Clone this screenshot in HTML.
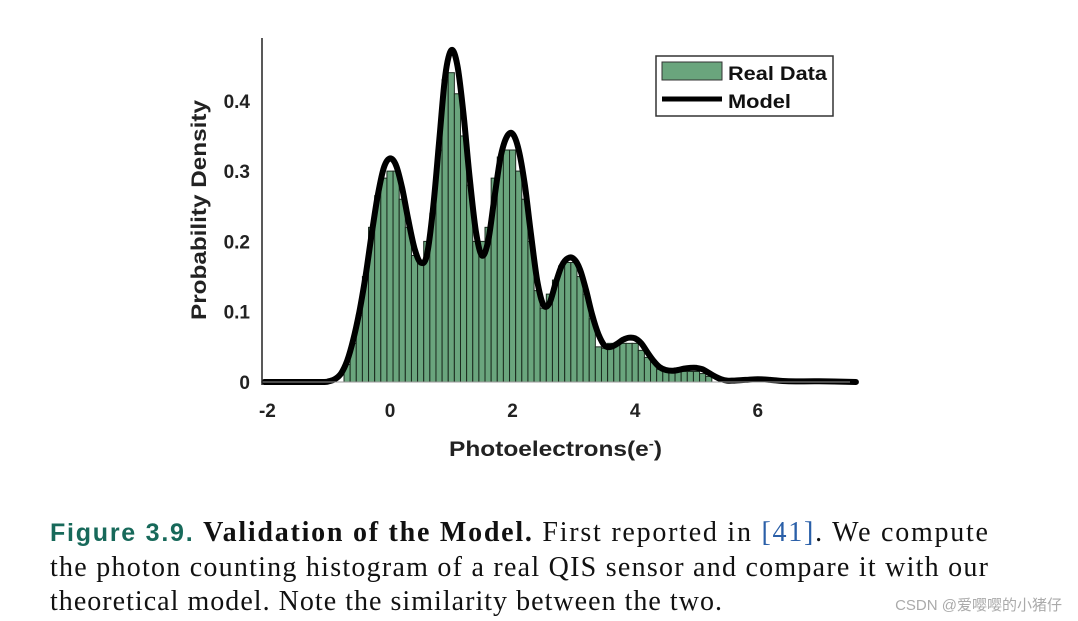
<!DOCTYPE html>
<html><head><meta charset="utf-8"><style>
html,body{margin:0;padding:0;background:#fff;width:1078px;height:621px;overflow:hidden}
svg text{font-family:"Liberation Sans",Arial,sans-serif}
.cap{font-family:"Liberation Serif","Noto Serif CJK SC",serif;font-size:28px;fill:#111}
</style></head><body>
<svg id="chart" width="1078" height="621" xmlns="http://www.w3.org/2000/svg">
<g id="bars"></g>
<path id="model" fill="none" stroke="#000" stroke-width="6" stroke-linejoin="round" stroke-linecap="round"/>
<line x1="262" y1="382" x2="850" y2="382" stroke="#999" stroke-width="1"/>
<line x1="262" y1="38" x2="262" y2="385" stroke="#222" stroke-width="1.5"/>
<g id="yticks"></g>
<g id="xticks"></g>
<text x="0" y="0" transform="translate(206,210) rotate(-90)" text-anchor="middle" font-size="21" font-weight="bold" fill="#222" textLength="220" lengthAdjust="spacingAndGlyphs">Probability Density</text>
<text x="449" y="456" font-size="21" font-weight="bold" fill="#222" textLength="213" lengthAdjust="spacingAndGlyphs">Photoelectrons(e<tspan dy="-8" font-size="13">-</tspan><tspan dy="8">)</tspan></text>
<g>
<rect x="656" y="56" width="177" height="60" fill="#fff" stroke="#333" stroke-width="1.5"/>
<rect x="662" y="62" width="60" height="18" fill="#6aa57d" stroke="#333" stroke-width="1"/>
<text x="728" y="80" font-size="19" font-weight="bold" fill="#111" textLength="99" lengthAdjust="spacingAndGlyphs">Real Data</text>
<line x1="662" y1="99" x2="722" y2="99" stroke="#000" stroke-width="5"/>
<text x="728" y="108" font-size="19" font-weight="bold" fill="#111" textLength="63" lengthAdjust="spacingAndGlyphs">Model</text>
</g>
<g>
<text class="cap" x="50" y="541" textLength="938" lengthAdjust="spacing"><tspan font-family="Liberation Sans, sans-serif" font-weight="bold" fill="#17695a" font-size="25">Figure 3.9.</tspan> <tspan font-weight="bold">Validation of the Model.</tspan> First reported in <tspan fill="#2a5fa8">[41]</tspan>. We compute</text>
<text class="cap" x="50" y="576" textLength="938" lengthAdjust="spacing">the photon counting histogram of a real QIS sensor and compare it with our</text>
<text class="cap" x="50" y="610" textLength="672" lengthAdjust="spacing">theoretical model. Note the similarity between the two.</text>
</g>
<text x="1062" y="610" text-anchor="end" font-size="15" fill="#aaa" style="font-family:'Liberation Sans','Noto Sans CJK SC',sans-serif">CSDN @爱嘤嘤的小猪仔</text>
</svg>
<script>
const barStart = -0.7;
const barWidth = 0.1;
const barValues = [0.025,0.055,0.095,0.15,0.22,0.265,0.29,0.3,0.3,0.26,0.22,0.18,0.17,0.2,0.24,0.33,0.43,0.44,0.41,0.35,0.28,0.2,0.2,0.22,0.29,0.32,0.33,0.33,0.3,0.26,0.2,0.13,0.105,0.125,0.145,0.165,0.17,0.17,0.15,0.125,0.09,0.05,0.048,0.055,0.055,0.055,0.055,0.055,0.045,0.035,0.028,0.018,0.015,0.015,0.015,0.015,0.015,0.015,0.012,0.008];
const modelX = [-2.2,-1.5,-1.1,-1.0,-0.9,-0.8,-0.7,-0.6,-0.5,-0.4,-0.3,-0.2,-0.1,0,0.1,0.2,0.3,0.4,0.5,0.6,0.7,0.8,0.9,1.0,1.1,1.2,1.3,1.4,1.5,1.6,1.7,1.8,1.9,2.0,2.1,2.2,2.3,2.4,2.5,2.6,2.7,2.8,2.9,3.0,3.1,3.2,3.3,3.4,3.5,3.6,3.7,3.8,3.9,4.0,4.1,4.2,4.3,4.4,4.5,4.6,4.7,4.8,4.9,5.0,5.1,5.2,5.3,5.4,5.5,5.6,5.8,6.0,6.2,6.5,7.0,7.6];
const modelY = [0,0,0,0.001,0.004,0.012,0.03,0.06,0.1,0.15,0.21,0.265,0.305,0.318,0.308,0.275,0.23,0.19,0.17,0.18,0.245,0.34,0.435,0.472,0.45,0.38,0.29,0.215,0.18,0.2,0.26,0.318,0.348,0.353,0.33,0.28,0.21,0.145,0.11,0.112,0.14,0.165,0.176,0.175,0.16,0.13,0.095,0.068,0.052,0.05,0.054,0.06,0.063,0.062,0.055,0.042,0.03,0.021,0.017,0.016,0.017,0.019,0.02,0.02,0.018,0.013,0.008,0.004,0.002,0.002,0.003,0.004,0.003,0.001,0.001,0];
const yTicks = [0,0.1,0.2,0.3,0.4];
const yTickLabels = ["0","0.1","0.2","0.3","0.4"];
const xTicks = [-2,0,2,4,6];
const xTickLabels = ["-2","0","2","4","6"];
const NS="http://www.w3.org/2000/svg";
function sx(v){return 390+v*61.3;}
function sy(v){return 382-v*703;}
const bg=document.getElementById('bars');
barValues.forEach((v,i)=>{
  const x0=barStart+i*barWidth-barWidth/2;
  const r=document.createElementNS(NS,'rect');
  r.setAttribute('x',sx(x0));r.setAttribute('width',sx(x0+barWidth)-sx(x0));
  r.setAttribute('y',sy(v));r.setAttribute('height',sy(0)-sy(v));
  r.setAttribute('fill','#6aa57d');r.setAttribute('stroke','#1a2a1e');r.setAttribute('stroke-width','1');
  
  
  bg.appendChild(r);
});
const pts=modelX.map((x,i)=>[sx(Math.max(x,-2.05)),sy(modelY[i])]);
let d='M'+pts[0][0].toFixed(1)+','+pts[0][1].toFixed(1);
for(let i=0;i<pts.length-1;i++){
  const p0=pts[Math.max(i-1,0)],p1=pts[i],p2=pts[i+1],p3=pts[Math.min(i+2,pts.length-1)];
  const c1=[p1[0]+(p2[0]-p0[0])/6,p1[1]+(p2[1]-p0[1])/6];
  const c2=[p2[0]-(p3[0]-p1[0])/6,p2[1]-(p3[1]-p1[1])/6];
  d+='C'+c1[0].toFixed(1)+','+c1[1].toFixed(1)+' '+c2[0].toFixed(1)+','+c2[1].toFixed(1)+' '+p2[0].toFixed(1)+','+p2[1].toFixed(1);
}
document.getElementById('model').setAttribute('d',d);
const yt=document.getElementById('yticks');
yTicks.forEach((v,i)=>{
  const t=document.createElementNS(NS,'text');
  t.setAttribute('x',250);t.setAttribute('y',sy(v)+7);t.setAttribute('text-anchor','end');
  t.setAttribute('font-size','19');t.setAttribute('font-weight','bold');t.setAttribute('fill','#222');
  t.textContent=yTickLabels[i];
  
  
  yt.appendChild(t);
});
const xt=document.getElementById('xticks');
xTicks.forEach((v,i)=>{
  const t=document.createElementNS(NS,'text');
  t.setAttribute('x',sx(v));t.setAttribute('y',417);t.setAttribute('text-anchor','middle');
  t.setAttribute('font-size','19');t.setAttribute('font-weight','bold');t.setAttribute('fill','#222');
  t.textContent=xTickLabels[i];
  
  
  xt.appendChild(t);
});
</script>
</body></html>
